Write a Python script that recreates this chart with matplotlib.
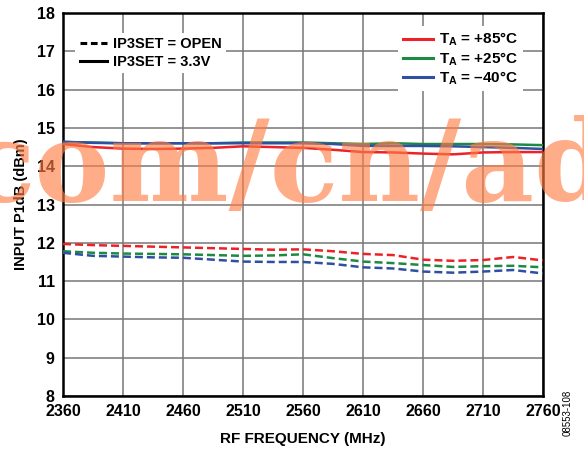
import numpy as np
import matplotlib.pyplot as plt
from matplotlib.lines import Line2D

plt.rcParams['font.family'] = ['Liberation Sans', 'DejaVu Sans']
plt.rcParams['mathtext.fontset'] = 'custom'
plt.rcParams['mathtext.rm'] = 'Liberation Sans:bold'
plt.rcParams['mathtext.it'] = 'Liberation Sans:bold'
plt.rcParams['mathtext.bf'] = 'Liberation Sans:bold'

# RF frequency (MHz)
freq = [2360, 2385, 2410, 2435, 2460, 2485, 2510, 2535, 2560, 2585,
        2610, 2635, 2660, 2685, 2710, 2735, 2760]

# IP3SET = OPEN (dashed)
open_85 = [11.97, 11.94, 11.92, 11.90, 11.88, 11.86, 11.84, 11.82, 11.83, 11.78,
           11.71, 11.68, 11.56, 11.53, 11.55, 11.63, 11.54]
open_25 = [11.78, 11.74, 11.72, 11.71, 11.70, 11.68, 11.66, 11.67, 11.70, 11.60,
           11.51, 11.47, 11.42, 11.37, 11.39, 11.40, 11.36]
open_m40 = [11.74, 11.66, 11.64, 11.62, 11.61, 11.56, 11.51, 11.50, 11.50, 11.45,
            11.36, 11.33, 11.25, 11.22, 11.25, 11.29, 11.20]

# IP3SET = 3.3V (solid)
v33_85 = [14.58, 14.50, 14.46, 14.45, 14.46, 14.48, 14.52, 14.50, 14.48, 14.43,
          14.37, 14.36, 14.33, 14.31, 14.36, 14.37, 14.37]
v33_25 = [14.63, 14.62, 14.60, 14.60, 14.60, 14.60, 14.62, 14.62, 14.62, 14.60,
          14.58, 14.60, 14.58, 14.58, 14.58, 14.57, 14.55]
v33_m40 = [14.64, 14.61, 14.60, 14.60, 14.60, 14.60, 14.60, 14.60, 14.60, 14.58,
           14.53, 14.53, 14.53, 14.52, 14.50, 14.48, 14.45]

temp_labels = [r'$\mathrm{T_A}$ = +85°C', r'$\mathrm{T_A}$ = +25°C', r'$\mathrm{T_A}$ = –40°C']
colors = ['#ec2227', '#1d8a42', '#2f4fa3']

fig = plt.figure(figsize=(5.84, 4.5), dpi=100)
ax = fig.add_axes([0.108, 0.12, 0.822, 0.851])

dash = (0, (3.2, 1.6))
for ys, c in zip([open_85, open_25, open_m40], colors):
    ax.plot(freq, ys, color=c, linestyle=dash, linewidth=1.8, zorder=3)
for ys, c in zip([v33_85, v33_25, v33_m40], colors):
    ax.plot(freq, ys, color=c, linewidth=1.8, zorder=3)

ax.set_xlim(2360, 2760)
ax.set_ylim(8, 18)
ax.set_xticks(np.arange(2360, 2761, 50))
ax.set_yticks(np.arange(8, 19, 1))
ax.grid(True, color='#777777', linewidth=1.1)
ax.tick_params(length=0, labelsize=11.5, pad=6)
for lab in ax.get_xticklabels() + ax.get_yticklabels():
    lab.set_fontweight('bold')
for s in ax.spines.values():
    s.set_linewidth(1.8)
    s.set_color('black')

ax.set_xlabel('RF FREQUENCY (MHz)', fontsize=11, fontweight='bold', labelpad=9)
ax.set_ylabel('INPUT P1dB (dBm)', fontsize=10.5, fontweight='bold', labelpad=6)

# legend for IP3SET line style
style_handles = [Line2D([], [], color='black', linestyle=(0, (2.2, 1.2)), linewidth=2.2),
                 Line2D([], [], color='black', linewidth=2.2)]
leg1 = ax.legend(style_handles, ['IP3SET = OPEN', 'IP3SET = 3.3V'], loc='upper left',
                 bbox_to_anchor=(0.01, 0.968), frameon=True, framealpha=1, edgecolor='none',
                 fancybox=False, prop={'weight': 'bold', 'size': 10.5}, handlelength=1.9,
                 handletextpad=0.4, labelspacing=0.25, borderpad=0.3)
ax.add_artist(leg1)

temp_handles = [Line2D([], [], color=c, linewidth=2.2) for c in colors]
leg2 = ax.legend(temp_handles, temp_labels, loc='upper right',
                 bbox_to_anchor=(0.975, 0.985), frameon=True, framealpha=1, edgecolor='none',
                 fancybox=False, prop={'weight': 'bold', 'size': 11}, handlelength=2.0,
                 handletextpad=0.4, labelspacing=0.12, borderpad=0.3)

# watermark overlay
fig.text(-34 / 584, 1 - 201 / 450, 'com/cn/ad', ha='left', va='baseline',
         family='DejaVu Serif', fontweight='bold', fontsize=81, color='#ff7d46',
         alpha=0.64, zorder=10)

fig.text(0.972, 0.03, '08553-108', rotation=90, fontsize=7, ha='center', va='bottom')

fig.savefig('out.png', dpi=100)
